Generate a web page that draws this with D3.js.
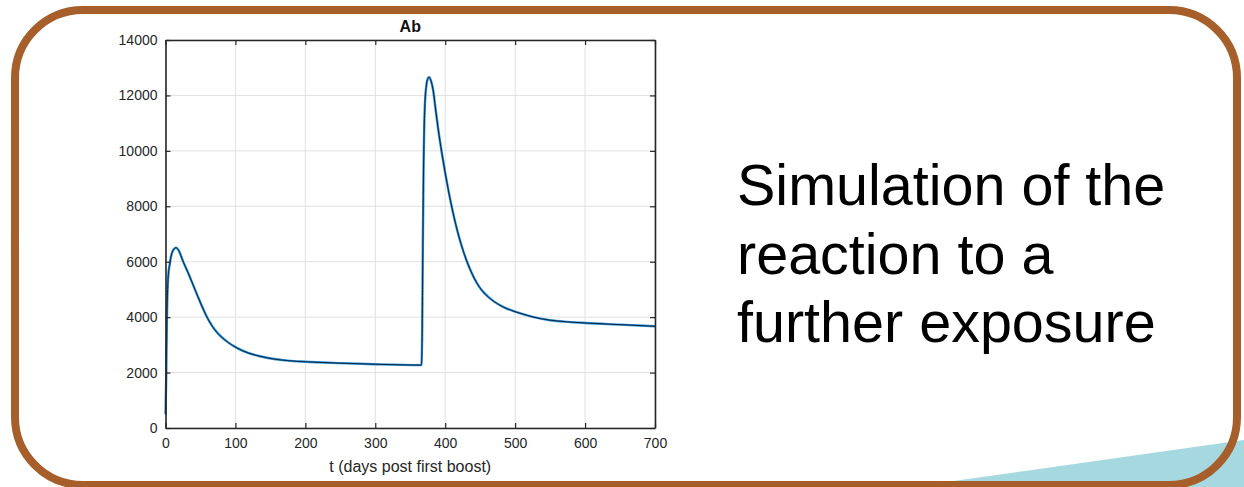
<!DOCTYPE html>
<html>
<head>
<meta charset="utf-8">
<script src="https://cdn.jsdelivr.net/npm/d3@7"></script>
<style>
  html, body { margin: 0; padding: 0; background: #ffffff; }
  svg { display: block; }
  text { font-family: "Liberation Sans", Arial, sans-serif; }
</style>
</head>
<body>
<svg id="chart" width="1244" height="487"></svg>
<script>
// ---- data ----
const days = [0, 1, 2, 3, 4, 6, 8, 11, 15, 19, 25, 32, 40, 46, 52, 58, 64, 70, 78, 90, 102, 118, 135, 155, 175, 200, 250, 300, 365,
              366, 367, 368, 369, 370, 371, 373, 375, 377, 380, 383, 386, 390, 395, 400, 405, 410, 415, 420, 425, 430, 436, 442, 448, 454,
              462, 470, 482, 495, 510, 525, 550, 575, 600, 650, 700];
const antibody = [500, 1800, 3900, 5000, 5500, 5900, 6200, 6420, 6505, 6400, 6020, 5620, 5130, 4760, 4400, 4070, 3790, 3560, 3330, 3080, 2890, 2710, 2590, 2490, 2430, 2390, 2340, 2300, 2270,
                  2280, 3300, 6500, 9300, 10900, 11700, 12350, 12600, 12660, 12500, 12150, 11550, 10780, 9950, 9200, 8520, 7900, 7350, 6870, 6450, 6080, 5700, 5380, 5120, 4920,
                  4720, 4560, 4380, 4240, 4120, 4010, 3890, 3830, 3790, 3730, 3670];
const xTicks = [0, 100, 200, 300, 400, 500, 600, 700];
const yTicks = [0, 2000, 4000, 6000, 8000, 10000, 12000, 14000];
const chartTitle = "Ab";
const xLabel = "t (days post first boost)";
const sideText = ["Simulation of the", "reaction to a", "further exposure"];

// ---- drawing ----
const svg = d3.select("#chart");

// teal decorative wedge (behind frame)
svg.append("polygon")
  .attr("points", `925,485 1244,440 1244,487 925,487`)
  .attr("fill", "#a5d8df");

const plot = { left: 165.5, right: 655, top: 40, bottom: 428 };
const x = d3.scaleLinear().domain([0, 700]).range([plot.left, plot.right]);
const y = d3.scaleLinear().domain([0, 14000]).range([plot.bottom, plot.top]);

// grid
const g = svg.append("g");
g.selectAll("line.gx").data(xTicks).enter().append("line")
  .attr("x1", d => x(d)).attr("x2", d => x(d))
  .attr("y1", plot.top).attr("y2", plot.bottom)
  .attr("stroke", "#e1e1e1").attr("stroke-width", 1);
g.selectAll("line.gy").data(yTicks).enter().append("line")
  .attr("y1", d => y(d)).attr("y2", d => y(d))
  .attr("x1", plot.left).attr("x2", plot.right)
  .attr("stroke", "#e1e1e1").attr("stroke-width", 1);

// line
const line = d3.line().x((d, i) => x(days[i])).y(d => y(d)).curve(d3.curveMonotoneX);
svg.append("path").datum(antibody)
  .attr("d", line).attr("fill", "none")
  .attr("stroke", "#2b93d9").attr("stroke-width", 2.4);
svg.append("path").datum(antibody)
  .attr("d", line).attr("fill", "none")
  .attr("stroke", "#10223d").attr("stroke-width", 1);

// axes box
const axisColor = "#262626";
const fmt = d3.format("d");
const xAxisB = d3.axisBottom(x).tickValues(xTicks).tickSizeInner(-5).tickSizeOuter(0).tickPadding(10).tickFormat(fmt);
const xAxisT = d3.axisTop(x).tickValues(xTicks).tickSizeInner(-5).tickSizeOuter(0).tickFormat("");
const yAxisL = d3.axisLeft(y).tickValues(yTicks).tickSizeInner(-5).tickSizeOuter(0).tickPadding(8).tickFormat(fmt);
const yAxisR = d3.axisRight(y).tickValues(yTicks).tickSizeInner(-5).tickSizeOuter(0).tickFormat("");

function styleAxis(sel) {
  sel.select(".domain").attr("stroke", axisColor).attr("stroke-width", 1.6);
  sel.selectAll(".tick line").attr("stroke", axisColor).attr("stroke-width", 1.2);
  sel.selectAll(".tick text").attr("fill", "#262626").attr("font-size", "14px")
     .attr("font-family", "Liberation Sans, Arial, sans-serif");
}
svg.append("g").attr("transform", `translate(0,${plot.bottom})`).call(xAxisB).call(styleAxis);
svg.append("g").attr("transform", `translate(0,${plot.top})`).call(xAxisT).call(styleAxis);
svg.append("g").attr("transform", `translate(${plot.left},0)`).call(yAxisL).call(styleAxis);
svg.append("g").attr("transform", `translate(${plot.right},0)`).call(yAxisR).call(styleAxis);

// title and axis label
svg.append("text").attr("x", (plot.left + plot.right) / 2).attr("y", 32)
  .attr("text-anchor", "middle").attr("font-weight", "bold").attr("font-size", "16px")
  .attr("fill", "#111").text(chartTitle);
svg.append("text").attr("x", (plot.left + plot.right) / 2).attr("y", 472)
  .attr("text-anchor", "middle").attr("font-size", "16px")
  .attr("fill", "#262626").text(xLabel);

// side text
svg.append("g").selectAll("text").data(sideText).enter().append("text")
  .attr("x", 737).attr("y", (d, i) => 205 + i * 68.5)
  .attr("font-size", "57.5px").attr("fill", "#000").text(d => d);

// brown rounded frame
svg.append("rect")
  .attr("x", 15).attr("y", 10).attr("width", 1222).attr("height", 475)
  .attr("rx", 68).attr("ry", 68)
  .attr("fill", "none").attr("stroke", "#a65e2a").attr("stroke-width", 8);
</script>
</body>
</html>
